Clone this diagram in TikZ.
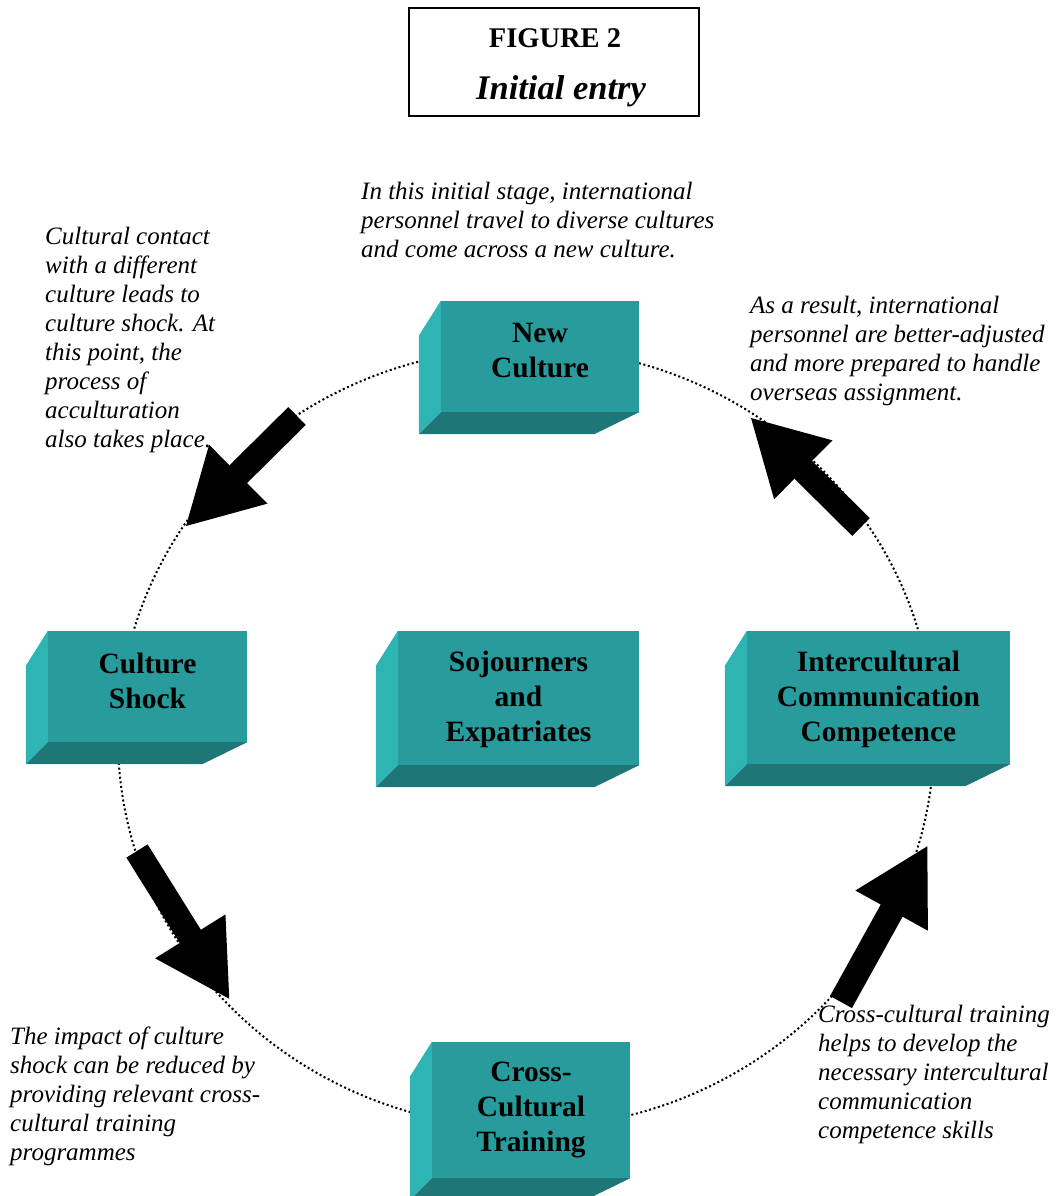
\documentclass[tikz,border=0pt]{standalone}
\usepackage{fontspec}
\setmainfont{Liberation Serif}
\usetikzlibrary{arrows.meta,calc}
\definecolor{cubefrontc}{HTML}{289C9C}
\definecolor{cubeleftc}{HTML}{2FB4B4}
\definecolor{cubebotc}{HTML}{1F7676}
\tikzset{
  cubefront/.style={fill=cubefrontc, draw=none, inner sep=0pt},
  cubetext/.style={inner sep=0pt, align=center,
    font=\fontsize{29.5}{35}\selectfont\bfseries},
  note/.style={anchor=north west, inner sep=0pt, align=left,
    font=\fontsize{25}{29}\selectfont\itshape},
  cyclepath/.style={line width=2pt, dash pattern=on 2pt off 2.6pt},
  bigarrow/.style={line width=25pt, -{Triangle[length=75pt,width=77pt]}},
}
\newcommand\cubesides[1]{%
  \fill[cubeleftc] ($(#1.north west)+(-22,35)$) -- (#1.north west) -- (#1.south west) -- ($(#1.south west)+(-22,22)$) -- cycle;
  \fill[cubebotc] (#1.south west) -- (#1.south east) -- ($(#1.south east)+(-45,22)$) -- ($(#1.south west)+(-22,22)$) -- cycle;
}
\begin{document}
\begin{tikzpicture}[x=1pt,y=-1pt]
\useasboundingbox (0,0) rectangle (1055,1196);
\clip (0,0) rectangle (1055,1196);
% title
\node[draw, line width=1.3pt, minimum width=290pt, minimum height=108pt, inner sep=0pt] (title) at (554,62) {};
\node[font=\fontsize{28.5}{32}\selectfont\bfseries, anchor=base] (fig) at (555,48) {FIGURE 2};
\node[font=\fontsize{34.5}{38}\selectfont\bfseries\itshape, anchor=base] (entry) at (561,100) {Initial entry};
% cycle
\coordinate (cc) at (526,738);
\draw[cyclepath] (cc) ellipse [x radius=408pt, y radius=390pt];
% boxes
\node[cubefront, minimum width=198pt, minimum height=111pt] (nc) at (540,356.5) {};
\cubesides{nc}
\node[cubetext] (nct) at ($(nc)+(0,-6)$) {New\\Culture};
\node[cubefront, minimum width=199pt, minimum height=111pt] (cs) at (147.5,686.5) {};
\cubesides{cs}
\node[cubetext] (cst) at ($(cs)+(0,-6)$) {Culture\\Shock};
\node[cubefront, minimum width=241pt, minimum height=134pt] (se) at (518.5,698) {};
\cubesides{se}
\node[cubetext] (set) at ($(se)+(0,1)$) {Sojourners\\and\\Expatriates};
\node[cubefront, minimum width=263pt, minimum height=133pt] (icc) at (878.5,697.5) {};
\cubesides{icc}
\node[cubetext] (icct) at ($(icc)+(0,1.5)$) {Intercultural\\Communication\\Competence};
\node[cubefront, minimum width=198pt, minimum height=136pt] (cct) at (531,1110) {};
\cubesides{cct}
\node[cubetext] (cctt) at ($(cct)+(0,0)$) {Cross-\\Cultural\\Training};
% arrows
\coordinate (a1t) at (297,416); \coordinate (a1h) at (185,527);
\coordinate (a2t) at (137,851); \coordinate (a2h) at (230,1000);
\coordinate (a3t) at (841,1002); \coordinate (a3h) at (928,845);
\coordinate (a4t) at (861,527); \coordinate (a4h) at (750,417);
\draw[bigarrow] (a1t) -- (a1h);
\draw[bigarrow] (a2t) -- (a2h);
\draw[bigarrow] (a3t) -- (a3h);
\draw[bigarrow] (a4t) -- (a4h);
% notes
\node[note] (ntop) at (361,182) {In this initial stage, international\\personnel travel to diverse cultures\\and come across a new culture.};
\node[note] (nleft) at (45,227) {Cultural contact\\with a different\\culture leads to\\culture shock. At\\this point, the\\process of\\acculturation\\also takes place.};
\node[note] (nright) at (750,296) {As a result, international\\personnel are better-adjusted\\and more prepared to handle\\overseas assignment.};
\node[note] (nbl) at (10,1027) {The impact of culture\\shock can be reduced by\\providing relevant cross-\\cultural training\\programmes};
\node[note] (nbr) at (818,1005) {Cross-cultural training\\helps to develop the\\necessary intercultural\\communication\\competence skills};
\end{tikzpicture}
\end{document}
